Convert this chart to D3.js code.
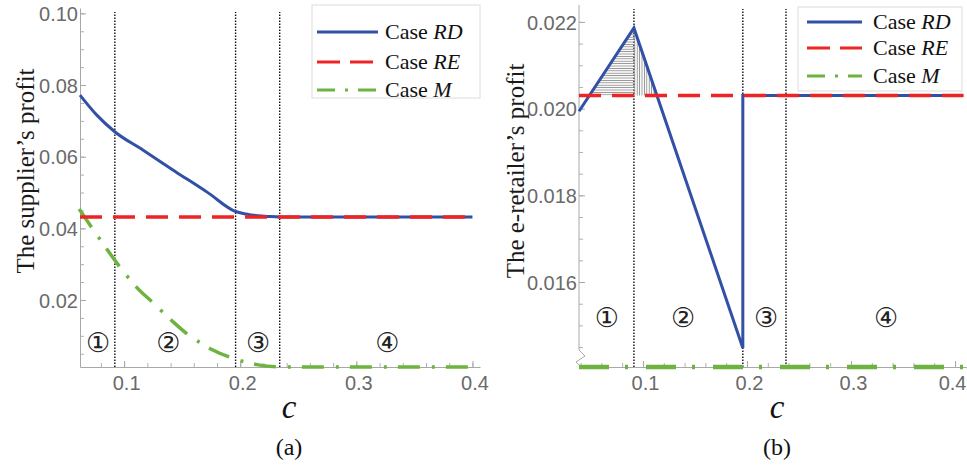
<!DOCTYPE html>
<html>
<head>
<meta charset="utf-8">
<script src="https://cdn.jsdelivr.net/npm/d3@7/dist/d3.min.js"></script>
<style>
body { margin: 0; background: #fff; }
svg { display: block; }
</style>
</head>
<body>
<svg id="chart" width="967" height="465"></svg>
<script>
// ---- panel (a): supplier's profit ----
const cRdA = [0.062, 0.0765, 0.0922, 0.1155, 0.144, 0.1724, 0.196, 0.205, 0.215, 0.225, 0.234, 0.40];
const rdA  = [0.0772, 0.0716, 0.0669, 0.0620, 0.0559, 0.0499, 0.0447, 0.0440, 0.0435, 0.0433, 0.0432, 0.0432];
const cReA = [0.062, 0.40];
const reA  = [0.0432, 0.0432];
const cMA  = [0.0612, 0.0784, 0.0983, 0.1112, 0.125, 0.1422, 0.1552, 0.1655, 0.1759, 0.1931, 0.2043, 0.2155, 0.236, 0.4065];
const mA   = [0.0454, 0.0373, 0.0284, 0.0234, 0.0192, 0.0139, 0.0103, 0.0081, 0.0061, 0.0038, 0.0027, 0.0019, 0, 0];
const splitA = [0.092, 0.196, 0.234];
const regionCA = [0.0776, 0.138, 0.2155, 0.3267];
const yTicksA = [0.02, 0.04, 0.06, 0.08, 0.10];

// ---- panel (b): e-retailer's profit ----
const cRdB = [0.0385, 0.0913, 0.196, 0.196, 0.408];
const rdB  = [0.01994, 0.02186, 0.01448, 0.0203, 0.0203];
const cReB = [0.0385, 0.408];
const reB  = [0.0203, 0.0203];
const cMB  = [0.0385, 0.4115];
const mB   = [0, 0];
const splitB = [0.0913, 0.196, 0.2375];
const regionCB = [0.0654, 0.1385, 0.2183, 0.3337];
const yTicksB = [0.016, 0.018, 0.020, 0.022];

const xTicks = [0.1, 0.2, 0.3, 0.4];
const regionLabels = ['\u2460', '\u2461', '\u2462', '\u2463'];
const legendCases = ['RD', 'RE', 'M'];

const blue = '#3150a6', red = '#ee2424', green = '#6db33f';
const svg = d3.select('#chart');

const defs = svg.append('defs');
defs.append('pattern').attr('id', 'hatchH')
  .attr('patternUnits', 'userSpaceOnUse').attr('width', 4).attr('height', 2.4)
  .append('line').attr('x1', 0).attr('x2', 4).attr('y1', 1.2).attr('y2', 1.2)
  .attr('stroke', '#8c8c8c').attr('stroke-width', 0.9);
defs.append('pattern').attr('id', 'hatchV')
  .attr('patternUnits', 'userSpaceOnUse').attr('width', 2.4).attr('height', 4)
  .append('line').attr('y1', 0).attr('y2', 4).attr('x1', 1.2).attr('x2', 1.2)
  .attr('stroke', '#8c8c8c').attr('stroke-width', 0.9);

const zip = (cs, vs) => cs.map((c, i) => [c, vs[i]]);

function drawPanel(p) {
  const g = svg.append('g');
  const x = p.x, y = p.y;
  const [x0, x1] = x.range();
  const [yb, yt] = y.range();

  // split lines
  g.selectAll('.split').data(p.splits).enter().append('line')
    .attr('x1', d => x(d)).attr('x2', d => x(d))
    .attr('y1', yb).attr('y2', yt + 4)
    .attr('stroke', '#111').attr('stroke-width', 1.4)
    .attr('stroke-dasharray', '1.4,1.6');

  // minor ticks
  g.append('g').attr('transform', `translate(0,${yb})`)
    .call(d3.axisBottom(x).tickValues(p.xMinor).tickFormat('').tickSize(-4).tickSizeOuter(0))
    .call(a => a.select('.domain').remove())
    .call(a => a.selectAll('line').attr('stroke', '#b0b0b0'));
  g.append('g').attr('transform', `translate(${x0},0)`)
    .call(d3.axisLeft(y).tickValues(p.yMinor).tickFormat('').tickSize(-4).tickSizeOuter(0))
    .call(a => a.select('.domain').remove())
    .call(a => a.selectAll('line').attr('stroke', '#b0b0b0'));

  // major axes
  const xa = g.append('g').attr('transform', `translate(0,${yb})`)
    .call(d3.axisBottom(x).tickValues(xTicks).tickFormat(d3.format('.1f')).tickSize(-6).tickSizeOuter(0).tickPadding(9));
  const ya = g.append('g').attr('transform', `translate(${x0},0)`)
    .call(d3.axisLeft(y).tickValues(p.yTicks).tickFormat(d3.format(p.yFmt)).tickSize(-6).tickSizeOuter(0).tickPadding(2));
  [xa, ya].forEach(a => {
    a.selectAll('line').attr('stroke', '#a8a8a8');
    a.select('.domain').attr('stroke', '#a8a8a8');
    a.selectAll('text').attr('fill', '#6a6a6a')
      .style('font-family', '"Liberation Sans", Arial, sans-serif').style('font-size', '20px');
  });
  xa.selectAll('text').attr('dx', 2).attr('dy', '0.72em');
  if (p.lastTickEnd) {
    xa.selectAll('text').filter(d => d === 0.4).attr('text-anchor', 'end').attr('dx', 966 - x(0.4));
  }
  ya.selectAll('text').attr('dy', '0.36em');
  if (p.brokenAxis) {
    ya.select('.domain').remove();
    g.append('path')
      .attr('d', `M${x0},${yt}V${yb - 17}L${x0 + 6},${yb - 11}L${x0 - 3},${yb - 5}L${x0},${yb - 2}`)
      .attr('fill', 'none').attr('stroke', '#a8a8a8');
  }

  // hatched area
  if (p.hatch) {
    const pts = zip(p.rd.c, p.rd.v);
    const lvl = p.re.v[0];
    const cross = (a, b) => a[0] + (lvl - a[1]) / (b[1] - a[1]) * (b[0] - a[0]);
    const cL = cross(pts[0], pts[1]), cR = cross(pts[1], pts[2]);
    const peak = pts[1];
    g.append('path')
      .attr('d', d3.line()([[x(cL), y(lvl)], [x(peak[0]), y(peak[1])], [x(peak[0]), y(lvl)]]) + 'Z')
      .attr('fill', 'url(#hatchH)');
    g.append('path')
      .attr('d', d3.line()([[x(peak[0]), y(lvl)], [x(peak[0]), y(peak[1])], [x(cR), y(lvl)]]) + 'Z')
      .attr('fill', 'url(#hatchV)');
  }

  const line = d3.line().x(d => x(d[0])).y(d => y(d[1])).curve(p.curve);
  g.append('path').datum(zip(p.m.c, p.m.v)).attr('d', line)
    .attr('fill', 'none').attr('stroke', green).attr('stroke-width', p.mWidth)
    .attr('stroke-dasharray', p.mDash);
  g.append('path').datum(zip(p.rd.c, p.rd.v)).attr('d', line)
    .attr('fill', 'none').attr('stroke', blue).attr('stroke-width', 3);
  g.append('path').datum(zip(p.re.c, p.re.v)).attr('d', line)
    .attr('fill', 'none').attr('stroke', red).attr('stroke-width', 3.5)
    .attr('stroke-dasharray', '22,11');

  // region labels
  g.selectAll('.region').data(regionLabels).enter().append('text')
    .attr('x', (d, i) => x(p.regionC[i])).attr('y', y(p.regionV))
    .attr('text-anchor', 'middle').attr('dominant-baseline', 'central')
    .style('font-family', '"DejaVu Sans", sans-serif').style('font-size', '27px')
    .attr('fill', '#222').text(d => d);

  // axis titles
  const serif = '"Liberation Serif", "Times New Roman", serif';
  g.append('text').attr('transform', `translate(${p.yLabelX},171) rotate(-90)`)
    .attr('text-anchor', 'middle').attr('dominant-baseline', 'central')
    .style('font-family', serif).style('font-size', '25px').attr('fill', '#1a1a1a')
    .text(p.yLabel);
  g.append('text').attr('x', p.capX).attr('y', 418).attr('text-anchor', 'middle')
    .style('font-family', serif).style('font-size', '33px').style('font-style', 'italic')
    .attr('fill', '#111').text('c');
  g.append('text').attr('x', p.capX).attr('y', 455).attr('text-anchor', 'middle')
    .style('font-family', serif).style('font-size', '24px').attr('fill', '#111')
    .text(p.caption);

  // legend
  const L = p.legend;
  const lg = g.append('g');
  lg.append('rect').attr('x', L.x).attr('y', L.y).attr('width', L.w).attr('height', L.h)
    .attr('fill', '#fff').attr('stroke', '#dcdcdc');
  const styles = [
    { stroke: blue, dash: null },
    { stroke: red, dash: '23,10' },
    { stroke: green, dash: '18,10,3,10' }
  ];
  const items = lg.selectAll('.item').data(legendCases).enter().append('g')
    .attr('transform', (d, i) => `translate(0,${L.rows[i]})`);
  items.append('line').attr('x1', L.lx0).attr('x2', L.lx1)
    .attr('stroke', (d, i) => styles[i].stroke).attr('stroke-width', 3)
    .attr('stroke-dasharray', (d, i) => styles[i].dash);
  const t = items.append('text').attr('x', L.tx).attr('y', 7)
    .style('font-family', serif).style('font-size', '22px').attr('fill', '#111');
  t.append('tspan').text('Case ');
  t.append('tspan').style('font-style', 'italic').text(d => d);
}

drawPanel({
  x: d3.scaleLinear().domain([0.062, 0.4065]).range([80, 480]),
  y: d3.scaleLinear().domain([0.0013, 0.1015]).range([367, 8]).clamp(true),
  xMinor: d3.range(4, 21).map(i => i * 0.02),
  yMinor: d3.range(1, 21).map(i => i * 0.005),
  yTicks: yTicksA, yFmt: '.2f',
  splits: splitA,
  rd: { c: cRdA, v: rdA }, re: { c: cReA, v: reA }, m: { c: cMA, v: mA },
  curve: d3.curveMonotoneX, mWidth: 3.5, mDash: '22,12,3,11',
  regionC: regionCA, regionV: 0.0080,
  yLabel: 'The supplier\u2019s profit', yLabelX: 25,
  capX: 289, caption: '(a)',
  legend: { x: 312, y: 5, w: 168, h: 93, rows: [32, 62, 90], lx0: 317, lx1: 378, tx: 385 }
});

drawPanel({
  x: d3.scaleLinear().domain([0.0385, 0.4115]).range([579, 967]),
  y: d3.scaleLinear().domain([0.01404, 0.02239]).range([367, 5]).clamp(true),
  xMinor: d3.range(2, 21).map(i => i * 0.02),
  yMinor: d3.range(29, 45).map(i => i * 0.0005),
  yTicks: yTicksB, yFmt: '.3f',
  splits: splitB,
  rd: { c: cRdB, v: rdB }, re: { c: cReB, v: reB }, m: { c: cMB, v: mB },
  curve: d3.curveLinear, mWidth: 4.5, mDash: '30,16,3,18',
  regionC: regionCB, regionV: 0.01519,
  brokenAxis: true, hatch: true, lastTickEnd: true,
  yLabel: 'The e-retailer\u2019s profit', yLabelX: 515,
  capX: 777, caption: '(b)',
  legend: { x: 798, y: 7, w: 164, h: 84, rows: [22, 48, 76], lx0: 807, lx1: 862, tx: 873 }
});
</script>
</body>
</html>
